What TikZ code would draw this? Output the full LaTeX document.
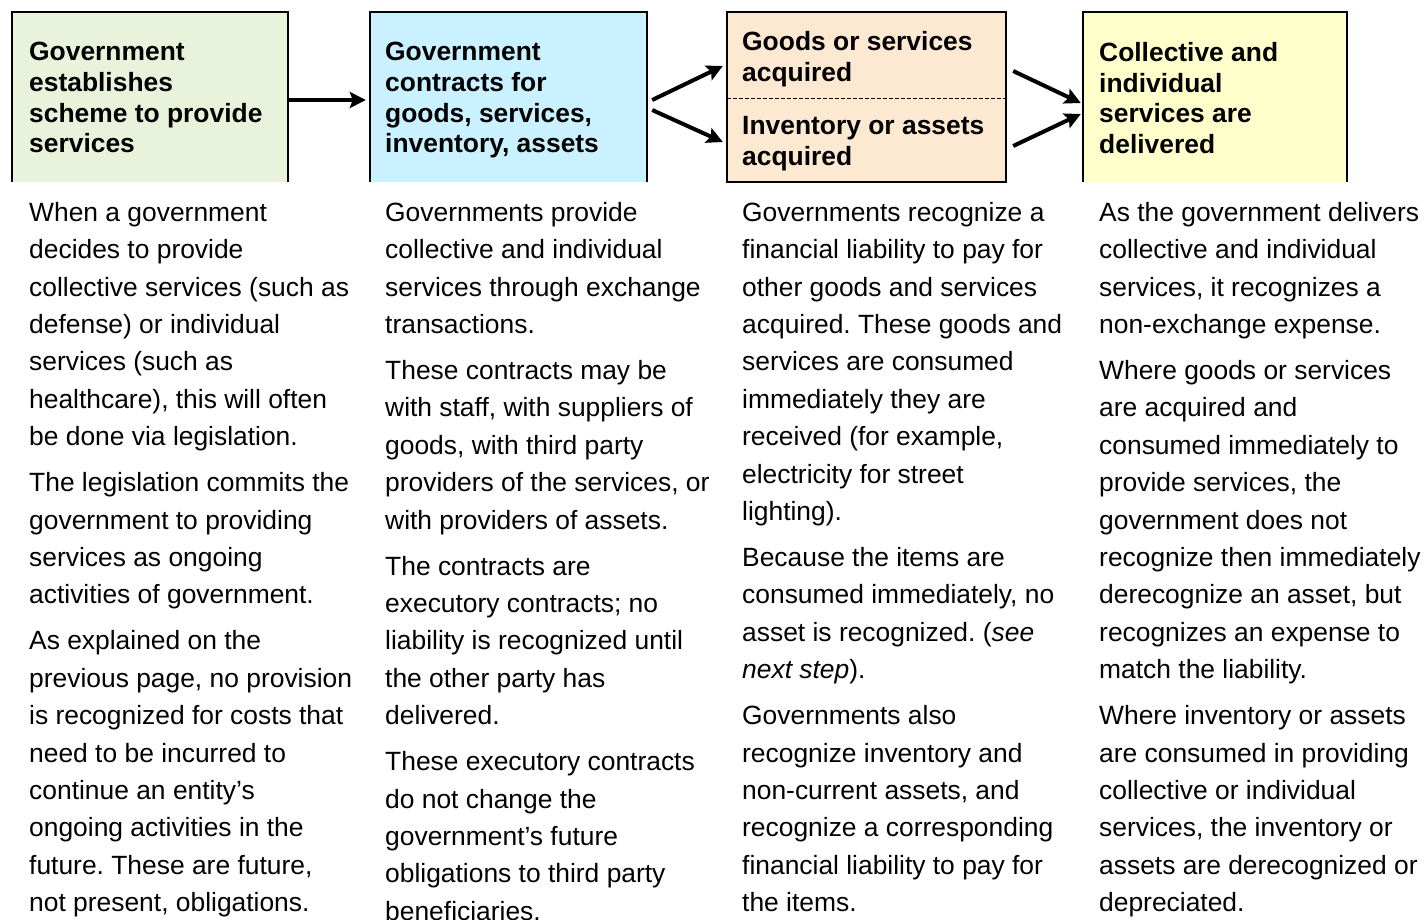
\documentclass[tikz,border=0pt]{standalone}
\usepackage{fontspec}
\setmainfont{Liberation Sans}
\usetikzlibrary{arrows.meta}
\frenchspacing

\definecolor{vertclair}{HTML}{E9F2DA}
\definecolor{bleuclair}{HTML}{C9F1FF}
\definecolor{orangeclair}{HTML}{FDE9D2}
\definecolor{jauneclair}{HTML}{FFFFCC}

\tikzset{
  boite/.style={draw=none, inner sep=0pt, minimum height=170pt},
  bord/.style={line width=2pt},
  fleche/.style={line width=4pt, -{Stealth[length=16pt,width=16pt,inset=3pt]}},
  titre/.style={anchor=north west, inner sep=0pt, align=left,
    font=\bfseries\fontsize{26.4}{30.7}\selectfont},
  texte/.style={anchor=north west, inner sep=0pt, align=left,
    font=\fontsize{26.4}{37.4}\selectfont}
}

\begin{document}
\begin{tikzpicture}[x=1pt,y=-1pt]

\useasboundingbox (0,0) rectangle (1425,919);

% Remplissage des boites
\node[boite, fill=vertclair, minimum width=276pt] (etape1) at (150,97) {};
\node[boite, fill=bleuclair, minimum width=277pt] (etape2) at (508.5,97) {};
\node[boite, fill=orangeclair, minimum width=279pt, minimum height=86pt] (biens) at (866.5,55) {};
\node[boite, fill=orangeclair, minimum width=279pt, minimum height=84pt] (stocks) at (866.5,140) {};
\node[boite, fill=jauneclair, minimum width=264pt] (etape4) at (1215,97) {};

% Contours (ouverts en bas sauf la troisieme)
\draw[bord] (etape1.south west) -- (etape1.north west) -- (etape1.north east) -- (etape1.south east);
\draw[bord] (etape2.south west) -- (etape2.north west) -- (etape2.north east) -- (etape2.south east);
\draw[bord] (biens.north west) rectangle (stocks.south east);
\draw[bord] (etape4.south west) -- (etape4.north west) -- (etape4.north east) -- (etape4.south east);

% Ligne pointillee
\draw[line width=1pt, dash pattern=on 4pt off 2pt] (biens.south west) -- (biens.south east);

% Fleches
\draw[fleche] ([yshift=-3pt]etape1.east) -- ([xshift=-4pt,yshift=-3pt]etape2.west);
\draw[fleche] ([xshift=5pt,yshift=-3pt]etape2.east) -- ([xshift=-4pt,yshift=-11pt]biens.west);
\draw[fleche] ([xshift=5pt,yshift=-13pt]etape2.east) -- ([xshift=-4pt,yshift=-2pt]stocks.west);
\draw[fleche] ([xshift=7pt,yshift=-16pt]biens.east) -- ([xshift=-2pt,yshift=-6pt]etape4.west);
\draw[fleche] ([xshift=7pt,yshift=-6pt]stocks.east) -- ([xshift=-2pt,yshift=-17pt]etape4.west);

% Titres des boites
\node[titre] (titre1) at (29,42) {Government\\establishes\\scheme to provide\\services};
\node[titre] (titre2) at (385,42) {Government\\contracts for\\goods, services,\\inventory, assets};
\node[titre] (titre3) at (742,31) {Goods or services\\acquired};
\node[titre] (titre3b) at (742,116) {Inventory or assets\\acquired};
\node[titre] (titre4) at (1099,42) {Collective and\\individual\\services are\\delivered};

% Textes explicatifs
\node[texte] (texte1) at (29,202) {When a government\\decides to provide\\collective services (such as\\defense) or individual\\services (such as\\healthcare), this will often\\be done via legislation.\\[8.6pt]
The legislation commits the\\government to providing\\services as ongoing\\activities of government.\\[8.6pt]
As explained on the\\previous page, no provision\\is recognized for costs that\\need to be incurred to\\continue an entity’s\\ongoing activities in the\\future. These are future,\\not present, obligations.};

\node[texte] (texte2) at (385,202) {Governments provide\\collective and individual\\services through exchange\\transactions.\\[8.6pt]
These contracts may be\\with staff, with suppliers of\\goods, with third party\\providers of the services, or\\with providers of assets.\\[8.6pt]
The contracts are\\executory contracts; no\\liability is recognized until\\the other party has\\delivered.\\[8.6pt]
These executory contracts\\do not change the\\government’s future\\obligations to third party\\beneficiaries.};

\node[texte] (texte3) at (742,202) {Governments recognize a\\financial liability to pay for\\other goods and services\\acquired. These goods and\\services are consumed\\immediately they are\\received (for example,\\electricity for street\\lighting).\\[8.6pt]
Because the items are\\consumed immediately, no\\asset is recognized. (\textit{see}\\\textit{next step}).\\[8.6pt]
Governments also\\recognize inventory and\\non-current assets, and\\recognize a corresponding\\financial liability to pay for\\the items.};

\node[texte] (texte4) at (1099,202) {As the government delivers\\collective and individual\\services, it recognizes a\\non-exchange expense.\\[8.6pt]
Where goods or services\\are acquired and\\consumed immediately to\\provide services, the\\government does not\\recognize then immediately\\derecognize an asset, but\\recognizes an expense to\\match the liability.\\[8.6pt]
Where inventory or assets\\are consumed in providing\\collective or individual\\services, the inventory or\\assets are derecognized or\\depreciated.};

\end{tikzpicture}
\end{document}
